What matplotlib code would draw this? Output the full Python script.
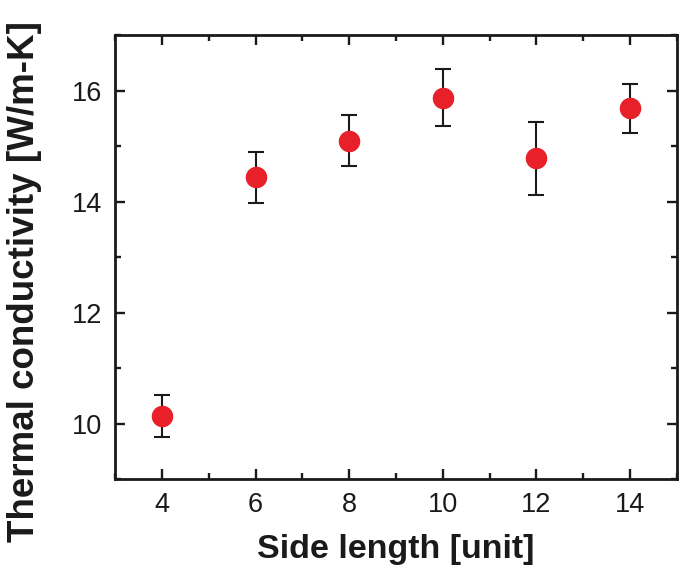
import matplotlib
matplotlib.use("Agg")
import matplotlib.pyplot as plt
from matplotlib.ticker import MultipleLocator

plt.rcParams['font.family'] = ['Liberation Sans', 'DejaVu Sans']

# data
side_length = [4, 6, 8, 10, 12, 14]
conductivity = [10.14, 14.44, 15.10, 15.87, 14.78, 15.68]
error = [0.38, 0.46, 0.455, 0.515, 0.655, 0.445]

fig = plt.figure(figsize=(6.85, 5.76), dpi=100)
ax = fig.add_axes([0.168, 0.168, 0.82, 0.771])

ax.errorbar(side_length, conductivity, yerr=error, fmt='o', color='#e8202a',
            markersize=14.5, ecolor='#1a1a1a', elinewidth=1.5, capsize=6,
            capthick=1.5, zorder=3)

ax.set_xlim(3, 15)
ax.set_ylim(9, 17)
ax.xaxis.set_major_locator(MultipleLocator(2))
ax.xaxis.set_minor_locator(MultipleLocator(1))
ax.yaxis.set_major_locator(MultipleLocator(2))
ax.yaxis.set_minor_locator(MultipleLocator(1))

ax.tick_params(which='both', direction='in', top=True, right=True,
               width=1.7, colors='#1a1a1a', labelcolor='#1a1a1a')
ax.tick_params(which='major', length=7.5, labelsize=19.5, pad=9)
ax.tick_params(which='minor', length=4)
for sp in ax.spines.values():
    sp.set_linewidth(2)
    sp.set_color('#1a1a1a')

ax.set_xlabel('Side length [unit]', fontsize=24.5, fontweight='bold',
              color='#1a1a1a', labelpad=12)
ax.set_ylabel('Thermal conductivity [W/m-K]', fontsize=26.5, fontweight='bold',
              color='#1a1a1a')
# label sits lower than the axes centre in the reference
ax.yaxis.set_label_coords(-0.13, 0.446, transform=ax.transAxes)

fig.savefig('out.png', dpi=100)
